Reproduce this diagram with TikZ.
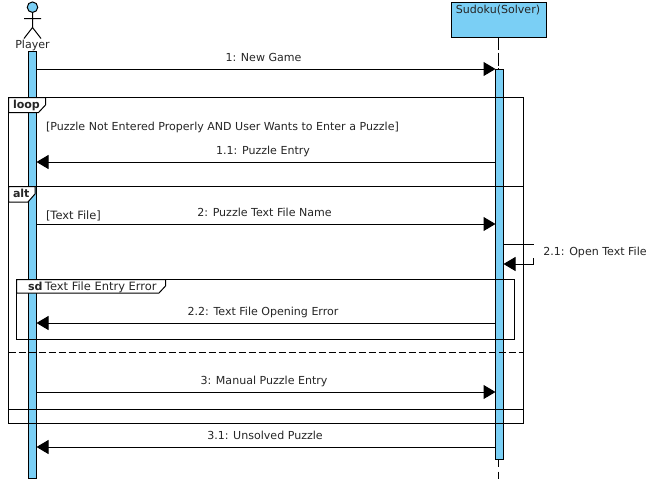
\documentclass[tikz,border=0pt]{standalone}
\usepackage{fontspec}
\setmainfont{DejaVu Sans}
\usetikzlibrary{arrows.meta}
\definecolor{fillblue}{HTML}{7ACFF5}
\tikzset{
  x=1pt,y=-1pt,
  every node/.style={inner sep=0pt,outer sep=0pt,font=\fontsize{11.05}{13}\selectfont,text=black!85},
  bar/.style={draw=black,fill=fillblue,line width=1pt,minimum width=8pt,anchor=north},
  fragment/.style={draw=black,line width=1pt,anchor=north west},
  tabshape/.style={draw=black,fill=white,line width=1pt},
  msg/.style={draw=black,line width=1pt,-{Triangle[length=12pt,width=14pt]}},
  plain/.style={draw=black,line width=1pt},
  lifetop/.style={draw=black,line width=1pt,dash pattern=on 13pt off 2.5pt},
  lifebottom/.style={draw=black,line width=1pt,dash pattern=on 7pt off 5pt},
  label/.style={anchor=base},
  guard/.style={anchor=base west},
  wideguard/.style={anchor=base west,font=\fontsize{11.45}{13}\selectfont},
  tabtext/.style={anchor=base west,font=\fontsize{11.05}{13}\selectfont\bfseries}
}
\begin{document}
\begin{tikzpicture}
\useasboundingbox (0,0) rectangle (662,483);
\fill[white] (0,0) rectangle (662,483);
% lifelines
\node[draw=black,fill=fillblue,line width=1pt,minimum width=95pt,minimum height=34.5pt,anchor=north] (solver) at (499,2.5) {};
\node[anchor=base] (solvertext) at (498,13) {Sudoku(Solver)};
\coordinate (lifeend) at (498.5,481);
\coordinate (lifebarend) at (498.5,459.5);
% activations
\node[bar,minimum height=427pt] (pa) at (32.5,51.5) {};
\node[bar,minimum height=390pt] (sa) at (499.5,69.5) {};
\draw[lifetop] (solver.south -| lifeend) -- (lifeend |- sa.north);
\draw[lifebottom] (lifebarend) -- (lifeend);
% actor
\node[draw=black,fill=fillblue,line width=1pt,circle,minimum size=10.5pt] (head) at (32.5,7.2) {};
\coordinate (hip) at (32.5,27.5);
\coordinate (armL) at (24,18.5);
\coordinate (armR) at (41,18.5);
\coordinate (legL) at (24,38.5);
\coordinate (legR) at (41,38.5);
\draw[plain] (head) -- (hip) (armL) -- (armR) (legL) -- (hip) -- (legR);
\node[anchor=base] (player) at (32.5,48) {Player};
% fragments
\node[fragment,minimum width=515pt,minimum height=89pt] (loopf) at (8.5,97.5) {};
\node[fragment,minimum width=515pt,minimum height=237pt] (altf) at (8.5,186.5) {};
\node[fragment,minimum width=498pt,minimum height=60pt] (sdf) at (16.5,279.5) {};
\draw[tabshape] (loopf.north west) -- (45.5,97.5) -- (45.5,105) -- (38.5,112.5) -- (8.5,112.5) -- cycle;
\draw[tabshape] (altf.north west) -- (35,186.5) -- (35,194) -- (28,202) -- (8.5,202) -- cycle;
\draw[tabshape] (sdf.north west) -- (165.5,279.5) -- (165.5,286) -- (159,293) -- (16.5,293) -- cycle;
\node[tabtext] (looplbl) at (13,108.5) {loop};
\node[tabtext] (altlbl) at (13,197) {alt};
\node[tabtext] (sdlbl) at (28,290) {sd};
\node[wideguard] (sdname) at (45,290) {Text File Entry Error};
\coordinate (sepL) at (8.5,352);
\coordinate (sepR) at (523.5,352);
\draw[plain,dash pattern=on 7pt off 3pt] (sepL) -- (sepR);
\coordinate (sep2L) at (8.5,409.5);
\coordinate (sep2R) at (523.5,409.5);
\draw[plain] (sep2L) -- (sep2R);
% guards
\node[guard] (g1) at (46,130) {[Puzzle Not Entered Properly AND User Wants to Enter a Puzzle]};
\node[wideguard] (g2) at (46,219) {[Text File]};
% messages
\draw[msg] (pa.east |- 0,69) -- (sa.west |- 0,69);
\draw[msg] (sa.west |- 0,162) -- (pa.east |- 0,162);
\draw[msg] (pa.east |- 0,224) -- (sa.west |- 0,224);
\coordinate (s1) at (533.5,244);
\coordinate (s1b) at (533.5,258);
\coordinate (s2) at (533.5,264);
\draw[plain] (sa.east |- s1) -- (s1);
\draw[msg] (s1b) -- (s2) -- (sa.east |- s2);
\draw[msg] (sa.west |- 0,323) -- (pa.east |- 0,323);
\draw[msg] (pa.east |- 0,392) -- (sa.west |- 0,392);
\draw[msg] (sa.west |- 0,447) -- (pa.east |- 0,447);
% labels
\node[label] (m1) at (263.5,61) {1: New Game};
\node[label] (m11) at (263,154) {1.1: Puzzle Entry};
\node[label] (m2) at (264.5,216) {2: Puzzle Text File Name};
\node[label] (m21) at (595,255) {2.1: Open Text File};
\node[label] (m22) at (263,315) {2.2: Text File Opening Error};
\node[label] (m3) at (264,384) {3: Manual Puzzle Entry};
\node[label] (m31) at (265,439) {3.1: Unsolved Puzzle};
\end{tikzpicture}
\end{document}
